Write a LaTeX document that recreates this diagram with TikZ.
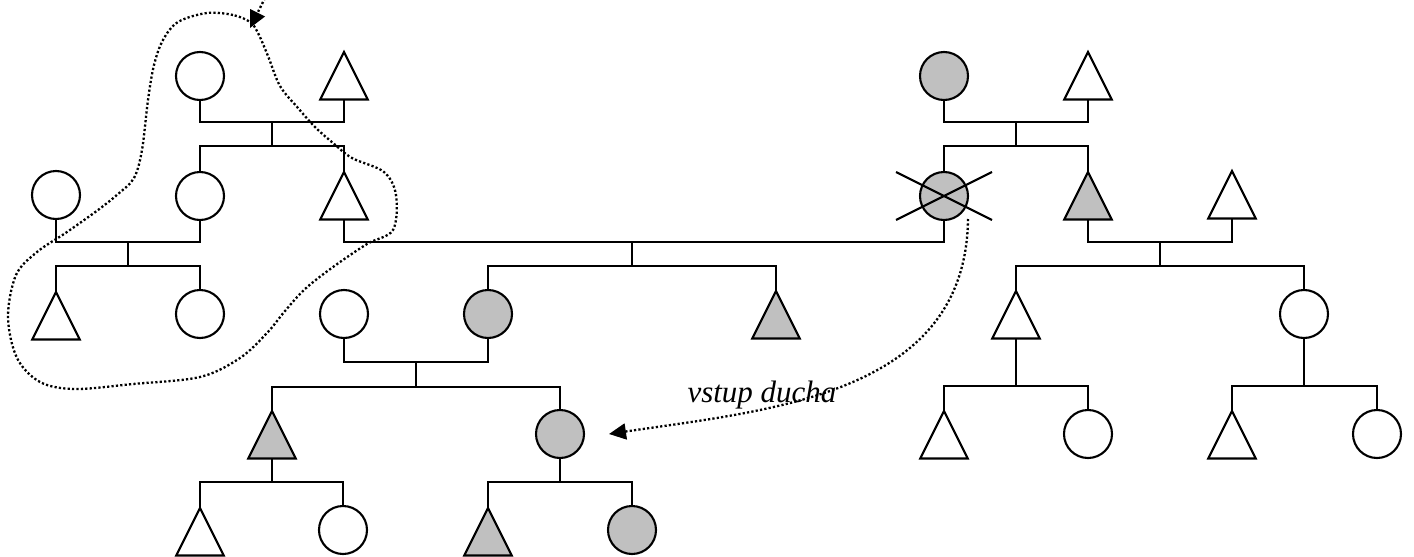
\documentclass[tikz,border=0pt]{standalone}
\usepackage{fontspec}
\setmainfont{Liberation Serif}
\usetikzlibrary{shapes.geometric,arrows.meta}
\definecolor{affected}{RGB}{192,192,192}

\tikzset{
    female/.style={circle, draw, fill=white, minimum size=48pt, inner sep=0pt, outer sep=0pt},
    male/.style={isosceles triangle, isosceles triangle stretches, shape border rotate=90,
        draw, fill=white, minimum width=47.5pt, minimum height=47.5pt, inner sep=0pt, outer sep=0pt, anchor=apex},
    shaded/.style={fill=affected},
    dots/.style={line width=2.3pt, dash pattern=on 2.2pt off 2.2pt},
    ghost/.style={dots, -{Triangle[length=17pt,width=16pt]}},
}

\begin{document}
\begin{tikzpicture}[x=1pt, y=-1pt, line width=2.1pt]
    \useasboundingbox (0,0) rectangle (1414,557);

    % left family: grandparents
    \node[female] (lgm) at (200,76) {};
    \node[male] (lgf) at (344,52) {};
    \coordinate (lm1) at (272,122);
    \coordinate (ls1) at (272,146);
    \draw (lgm.south) |- (lm1) -| (lgf.lower side);
    \draw (lm1) -- (ls1);

    % left family: children
    \node[female] (lmo) at (200,196) {};
    \node[male] (luc) at (344,172) {};
    \draw (lmo.north) |- (ls1) -| (luc.apex);

    \node[female] (lfa) at (56,195) {};
    \coordinate (lm2) at (128,242);
    \coordinate (ls2) at (128,266);
    \draw (lfa.south) |- (lm2) -| (lmo.south);
    \draw (lm2) -- (ls2);
    \node[male] (lc1) at (56,292) {};
    \node[female] (lc2) at (200,314) {};
    \draw (lc1.apex) |- (ls2) -| (lc2.north);

    % right family: grandparents
    \node[female, shaded] (rgm) at (944,76) {};
    \node[male] (rgf) at (1088,52) {};
    \coordinate (rm1) at (1016,122);
    \coordinate (rs1) at (1016,146);
    \draw (rgm.south) |- (rm1) -| (rgf.lower side);
    \draw (rm1) -- (rs1);

    % right family: children
    \node[female, shaded] (rx) at (944,196) {};
    \node[male, shaded] (rb) at (1088,172) {};
    \draw (rx.north) |- (rs1) -| (rb.apex);
    \draw ([shift={(-48,-24)}]rx.center) -- ([shift={(48,24)}]rx.center);
    \draw ([shift={(-48,24)}]rx.center) -- ([shift={(48,-24)}]rx.center);

    \node[male] (rsp) at (1232,171) {};
    \coordinate (rm2) at (1160,242);
    \coordinate (rs2) at (1160,266);
    \draw (rb.lower side) |- (rm2) -| (rsp.lower side);
    \draw (rm2) -- (rs2);
    \node[male] (rc1) at (1016,291) {};
    \node[female] (rc2) at (1304,314) {};
    \draw (rc1.apex) |- (rs2) -| (rc2.north);

    % right family: grandchildren
    \coordinate (rs3) at (1016,386);
    \coordinate (rs4) at (1304,386);
    \draw (rc1.lower side) -- (rs3);
    \draw (rc2.south) -- (rs4);
    \node[male] (r31) at (944,411) {};
    \node[female] (r32) at (1088,434) {};
    \node[male] (r41) at (1232,411) {};
    \node[female] (r42) at (1377,434) {};
    \draw (r31.apex) |- (rs3) -| (r32.north);
    \draw (r41.apex) |- (rs4) -| (r42.north);

    % middle: the couple across both families
    \coordinate (cm) at (632,242);
    \coordinate (cs) at (632,266);
    \draw (luc.lower side) |- (cm) -| (rx.south);
    \draw (cm) -- (cs);
    \node[female, shaded] (cd) at (488,314) {};
    \node[male, shaded] (cb) at (776,291) {};
    \draw (cd.north) |- (cs) -| (cb.apex);

    \node[female] (csp) at (344,314) {};
    \coordinate (cm2) at (416,362);
    \coordinate (cs2) at (416,387);
    \draw (csp.south) |- (cm2) -| (cd.south);
    \draw (cm2) -- (cs2);
    \node[male, shaded] (gc1) at (272,411) {};
    \node[female, shaded] (gc2) at (560,434) {};
    \draw (gc1.apex) |- (cs2) -| (gc2.north);

    % bottom row
    \coordinate (gs1) at (272,482);
    \coordinate (gs2) at (560,482);
    \draw (gc1.lower side) -- (gs1);
    \draw (gc2.south) -- (gs2);
    \node[male] (g11) at (200,508) {};
    \node[female] (g12) at (343,530) {};
    \node[male, shaded] (g21) at (488,508) {};
    \node[female, shaded] (g22) at (632,530) {};
    \draw (g11.apex) |- (gs1) -| (g12.north);
    \draw (g21.apex) |- (gs2) -| (g22.north);

    % dotted loop round the left branch
    \draw[dots] plot[smooth cycle, tension=0.55] coordinates {
        (250,22) (233,15) (207,13) (178,22) (163,40) (154,65) (148,100) (142,150) (134,178)
        (118,194) (98,210) (67,232) (37,252) (16,275) (8,317) (17,358) (40,382) (75,389)
        (133,384) (200,377) (240,358) (267,333) (285,311) (305,289) (333,267) (367,244)
        (393,230) (396,195) (384,172) (352,158) (333,143) (315,127) (298,108) (280,86)
        (268,56) (258,33)};

    % ghost arrows
    \coordinate (top) at (265,-2);
    \coordinate (entry) at (250,28);
    \draw[ghost] (top) -- (entry);

    \coordinate (exit) at (968,219);
    \coordinate (arrive) at (609,434);
    \draw[ghost] (exit) .. controls (966,395) and (770,410) .. (arrive);
    \node[anchor=base, font=\itshape\fontsize{31}{37}\selectfont] (lbl) at (762,402) {vstup ducha};
\end{tikzpicture}
\end{document}
